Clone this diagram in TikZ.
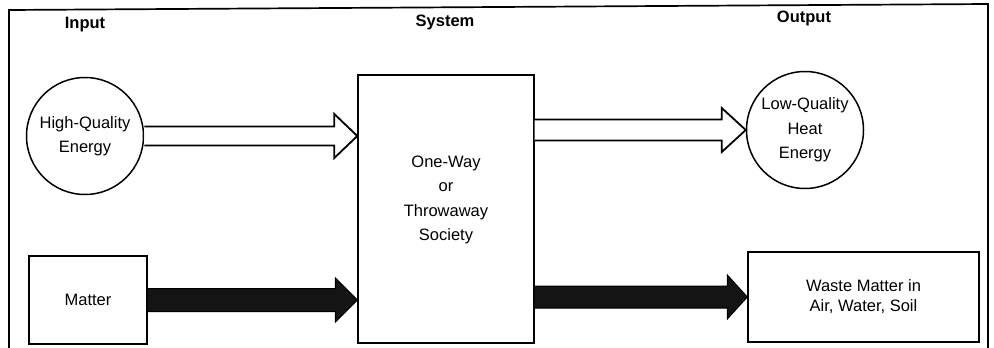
\documentclass[tikz,border=0pt]{standalone}
\usepackage{fontspec}
\setmainfont{Liberation Sans}
\usetikzlibrary{calc}
\tikzset{
  txt/.style={font=\fontsize{16.5}{24.5}\selectfont, align=center, inner sep=0pt},
  hdr/.style={font=\fontsize{16.5}{20}\selectfont\bfseries, inner sep=0pt},
  circ/.style={draw, line width=1.5pt, circle, minimum size=117pt, inner sep=0pt, txt},
  box/.style={draw, line width=1.4pt, rectangle, inner sep=0pt, txt},
  hollowarrow/.style={draw, line width=1.8pt, fill=white, line join=miter},
  solidarrow/.style={draw, line width=1pt, fill=black!92, line join=miter},
  frame/.style={line width=1.7pt}
}
% #1 style, #2 start point, #3 end point, #4 shaft half-width, #5 head half-width, #6 head length
\newcommand\fatarrow[6]{%
  \path[#1] let \p1=(#2), \p2=(#3) in
    (\x1,\y1+#4) -- (\x2-#6,\y1+#4) -- (\x2-#6,\y1+#5) -- (\x2,\y1)
    -- (\x2-#6,\y1-#5) -- (\x2-#6,\y1-#4) -- (\x1,\y1-#4);}
\begin{document}
\begin{tikzpicture}[x=1pt,y=-1pt]
\useasboundingbox (0,0) rectangle (994,348);
% frame
\coordinate (f1) at (9,348);
\coordinate (f2) at (9,10);
\coordinate (f3) at (988,4);
\coordinate (f4) at (988,348);
\draw[frame] (f1) -- (f2) -- (f3) -- (f4);
% headers
\node[hdr] (hin) at (85,25) {Input};
\node[hdr] (hsys) at (445,22) {System};
\node[hdr] (hout) at (804,18) {Output};
% nodes
\node[circ] (lc) at (85,136) {High-Quality\\Energy};
\node[box, minimum width=176pt, minimum height=268pt] (sys) at (446,209) {};
\node[txt] (systxt) at (446,200) {One-Way\\or\\Throwaway\\Society};
\node[circ] (rc) at (805,130) {Low-Quality\\Heat\\Energy};
\node[box, minimum width=118pt, minimum height=88pt] (matter) at (88,300) {Matter};
\node[box, minimum width=231pt, minimum height=90pt, font=\fontsize{16.5}{20}\selectfont] (waste) at (863.5,297) {Waste Matter in\\Air, Water, Soil};
% connectors
\coordinate (a1e) at (sys.west |- lc.east);
\coordinate (a2s) at (sys.east |- rc.west);
\coordinate (b1e) at (sys.west |- matter.east);
\coordinate (b2s) at (sys.east |- waste.west);
\fatarrow{hollowarrow}{lc.east}{a1e}{9.5pt}{22pt}{23pt}
\fatarrow{hollowarrow}{a2s}{rc.west}{10.5pt}{22pt}{24pt}
\fatarrow{solidarrow}{matter.east}{b1e}{11.5pt}{22pt}{22pt}
\fatarrow{solidarrow}{b2s}{waste.west}{11pt}{22pt}{20pt}
\end{tikzpicture}
\end{document}
